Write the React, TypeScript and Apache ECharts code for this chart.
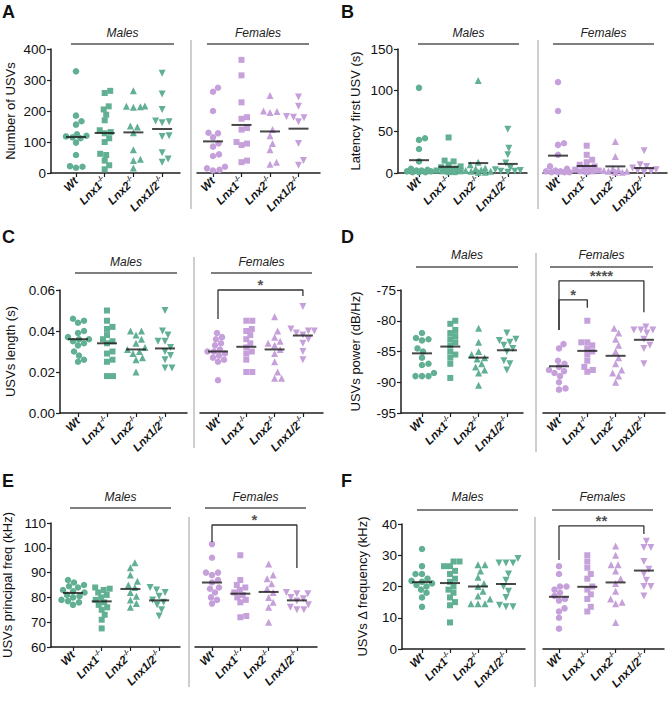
import React, { useEffect, useRef } from "react";
import * as echarts from "echarts";

// ---- categories -----------------------------------------------------------
const GENOTYPES = ["Wt", "Lnx1", "Lnx2", "Lnx1/2"];
const KNOCKOUT_SUFFIX = "-/-";
const SEXES = ["Males", "Females"];

// ---- A: number of USVs ----------------------------------------------------
const countMales = [
  [328, 185, 167, 156, 125, 120, 118, 115, 112, 98, 58, 22, 20, 17],
  [265, 258, 215, 205, 188, 170, 138, 132, 128, 112, 100, 62, 58, 40, 25, 12],
  [265, 216, 215, 214, 212, 152, 148, 130, 75, 44, 40, 16],
  [322, 255, 205, 168, 165, 162, 120, 118, 65, 45, 35],
];
const countFemales = [
  [275, 262, 200, 130, 128, 115, 95, 85, 60, 55, 20, 15, 10, 8],
  [365, 315, 228, 180, 175, 145, 140, 100, 95, 90, 40, 35],
  [250, 200, 198, 195, 140, 120, 95, 75, 35, 28],
  [245, 215, 182, 180, 178, 165, 95, 40, 25],
];
const countMalesMean = [116, 129, 131, 142];
const countFemalesMean = [102, 155, 134, 143];

// ---- B: latency to first USV (s) -----------------------------------------
const latencyMales = [
  [103, 42, 40, 29, 14, 5, 4, 3, 3, 2, 2, 1, 1, 1],
  [43, 15, 14, 10, 8, 7, 5, 4, 4, 3, 2, 2, 1, 1],
  [112, 13, 10, 6, 5, 4, 3, 2, 2, 1, 1],
  [53, 30, 22, 12, 6, 4, 3, 2, 2, 1],
];
const latencyFemales = [
  [110, 75, 36, 34, 22, 8, 5, 3, 2, 2, 1, 1, 1, 1],
  [33, 22, 16, 13, 10, 8, 6, 5, 4, 3, 2, 2, 1],
  [38, 20, 5, 4, 3, 2, 2, 1, 1],
  [27, 10, 8, 6, 4, 3, 2, 1],
];
const latencyMalesMean = [15.5, 7.5, 12, 11];
const latencyFemalesMean = [21, 8.5, 8, 6];

// ---- C: USV length (s) ----------------------------------------------------
const lengthMales = [
  [0.046, 0.045, 0.044, 0.04, 0.039, 0.037, 0.036, 0.036, 0.035, 0.034, 0.033, 0.03, 0.028, 0.026, 0.025],
  [0.05, 0.045, 0.042, 0.041, 0.038, 0.036, 0.035, 0.034, 0.03, 0.029, 0.026, 0.025, 0.018, 0.018],
  [0.04, 0.04, 0.038, 0.036, 0.034, 0.032, 0.031, 0.03, 0.029, 0.027, 0.026, 0.02],
  [0.05, 0.04, 0.038, 0.035, 0.035, 0.032, 0.03, 0.028, 0.026, 0.022, 0.022],
];
const lengthFemales = [
  [0.039, 0.037, 0.036, 0.034, 0.033, 0.031, 0.03, 0.03, 0.029, 0.028, 0.027, 0.026, 0.025, 0.016],
  [0.045, 0.045, 0.041, 0.04, 0.038, 0.036, 0.034, 0.032, 0.03, 0.029, 0.026, 0.02, 0.02],
  [0.047, 0.04, 0.037, 0.035, 0.034, 0.033, 0.031, 0.029, 0.025, 0.02, 0.017, 0.017],
  [0.052, 0.041, 0.04, 0.04, 0.039, 0.038, 0.036, 0.034, 0.03, 0.026],
];
const lengthMalesMean = [0.036, 0.034, 0.031, 0.0315];
const lengthFemalesMean = [0.03, 0.0323, 0.031, 0.0378];

// ---- D: USV power (dB/Hz) -------------------------------------------------
const powerMales = [
  [-82, -82.8, -83, -83.2, -84.5, -85, -86, -87, -87.2, -88.5, -89, -89, -89],
  [-80, -80.5, -81.5, -82, -82.5, -83, -83.5, -84, -85, -85.5, -86, -87, -89.3],
  [-81.2, -83.5, -85, -85.5, -86, -86.2, -87, -87.5, -88, -88.5, -90.5],
  [-82, -83, -83.2, -83.5, -84, -84.5, -85, -86.5, -87, -88],
];
const powerFemales = [
  [-83.8, -84.5, -86.5, -87, -87.5, -88, -88.2, -88.5, -89, -90, -91, -91.2],
  [-80, -83.5, -83.5, -84, -84.5, -85, -85.5, -86.5, -87.5, -88, -88.3],
  [-81.2, -82, -83, -84, -85, -86, -87, -88, -88.5, -89, -90],
  [-81, -81.5, -81.5, -81.5, -82, -83, -84, -84.5, -87],
];
const powerMalesMean = [-85.3, -84.2, -86, -84.8];
const powerFemalesMean = [-87.4, -84.9, -85.7, -83.1];

// ---- E: principal frequency (kHz) -----------------------------------------
const freqMales = [
  [87, 86, 85, 84.5, 84, 83, 82.5, 82, 81, 80.5, 80, 79, 78.5, 78, 77],
  [84, 83.5, 83, 82, 81, 80, 79, 78, 77, 76, 75, 73, 71, 67.5],
  [94, 92, 89, 86.5, 85, 84, 82, 80.5, 79, 77.5, 76],
  [84, 83, 82, 80.5, 79, 78, 77, 75, 72.5],
];
const freqFemales = [
  [101.5, 96, 90, 90, 89, 87, 86, 84, 83.5, 82, 80, 79, 77.5],
  [97, 87, 85, 84, 83, 82, 81, 80, 79, 78, 72.5, 72],
  [93.5, 89, 87.5, 85.5, 83.5, 82, 80, 78, 76, 70],
  [82, 81.5, 81.5, 80, 79.5, 78.5, 77, 76, 75, 75],
];
const freqMalesMean = [81.8, 78.4, 83.4, 78.8];
const freqFemalesMean = [86, 81.5, 82.2, 78.8];

// ---- F: delta frequency (kHz) ---------------------------------------------
const deltaMales = [
  [32, 26.5, 24, 24, 22.5, 21.8, 21.5, 21, 20.5, 20, 19, 18, 16.5, 13.5],
  [28, 28, 26.5, 26.5, 25, 24, 22.5, 21.5, 20, 19, 18, 16.5, 15, 14, 8.5],
  [27, 27, 25, 23, 21, 20, 18.5, 17, 16, 14.5, 14.5, 14.5],
  [29, 27.5, 27.5, 27.5, 24, 22, 20, 18.5, 16.5, 14, 13.5, 13.5],
];
const deltaFemales = [
  [26.5, 24, 20, 20, 19, 18, 17, 16, 15.5, 13, 12, 10, 6.5],
  [30, 28, 26, 24, 22.5, 20, 19, 17.5, 16, 13.5, 12],
  [33, 30, 27, 27, 25, 22.5, 21, 18.5, 16, 15, 14.5, 8.5],
  [34.5, 32.5, 32.5, 28, 25.5, 24, 22, 20, 20, 17],
];
const deltaMalesMean = [21.4, 21.1, 20, 20.8];
const deltaFemalesMean = [16.7, 19.9, 21.3, 25.1];

// ---- significance brackets (females, Wt vs. knockout) ---------------------
// [fromGenotype, toGenotype, barLevel, fromLegEnd, toLegEnd, stars]
const lengthBrackets = [[0, 3, 0.06, 0.0459, 0.0571, "*"]];
const powerBrackets = [
  [0, 3, -73.5, -81.5, -78.6, "****"],
  [0, 1, -76.6, -81.5, -77.9, "*"],
];
const freqBrackets = [[0, 3, 109.2, 102.3, 91.9, "*"]];
const deltaBrackets = [[0, 3, 39.4, 28.5, 36.8, "**"]];

// ---- styling ---------------------------------------------------------------
const FONT = "'Liberation Sans', Arial, Helvetica, sans-serif";
const GREEN = "#62b093";
const PURPLE = "#c6a0da";
const AXIS = "#1e1e1e";
const SYMBOLS = ["circle", "rect", "triangle", "triangle"];
const SYMBOL_ROTATE = [0, 0, 0, 180];
const SYMBOL_SIZE = [6.5, 6, 7, 7];

type Panel = {
  letter: string;
  yName: string;
  min: number;
  max: number;
  interval: number;
  decimals: number;
  males: number[][];
  females: number[][];
  malesMean: number[];
  femalesMean: number[];
  brackets: any[];
  lay: any;
};

const PANELS: Panel[] = [
  {
    letter: "A", yName: "Number of USVs", min: 0, max: 400, interval: 100, decimals: 0,
    males: countMales, females: countFemales, malesMean: countMalesMean, femalesMean: countFemalesMean,
    brackets: [],
    lay: { ax: 51, top: 49, bot: 173, mEnd: 180, mFirst: 76, mStep: 28.7, sep: 191, fStart: 197, fEnd: 320, fFirst: 213, fStep: 28.5,
      barY: 44, mBar: [71, 174], fBar: [207, 309], sepY: [40, 209], textY: 33, nameGap: 34, letter: [2, 3] },
  },
  {
    letter: "B", yName: "Latency first USV (s)", min: 0, max: 150, interval: 50, decimals: 0,
    males: latencyMales, females: latencyFemales, malesMean: latencyMalesMean, femalesMean: latencyFemalesMean,
    brackets: [],
    lay: { ax: 398, top: 49, bot: 173, mEnd: 527, mFirst: 419, mStep: 29.6, sep: 538, fStart: 543, fEnd: 667, fFirst: 558, fStep: 28.7,
      barY: 44, mBar: [418, 519], fBar: [553, 654], sepY: [40, 209], textY: 33, nameGap: 36, letter: [341, 3] },
  },
  {
    letter: "C", yName: "USVs length (s)", min: 0, max: 0.06, interval: 0.02, decimals: 2,
    males: lengthMales, females: lengthFemales, malesMean: lengthMalesMean, femalesMean: lengthFemalesMean,
    brackets: lengthBrackets,
    lay: { ax: 60, top: 290, bot: 413, mEnd: 187, mFirst: 78, mStep: 29, sep: 194, fStart: 200, fEnd: 323, fFirst: 218, fStep: 28.3,
      barY: 273, mBar: [75, 177], fBar: [211, 312], sepY: [257, 448], textY: 262, nameGap: 43, letter: [2, 228] },
  },
  {
    letter: "D", yName: "USVs power (dB/Hz)", min: -95, max: -75, interval: 5, decimals: 0,
    males: powerMales, females: powerFemales, malesMean: powerMalesMean, femalesMean: powerFemalesMean,
    brackets: powerBrackets,
    lay: { ax: 401, top: 290, bot: 413, mEnd: 523, mFirst: 422, mStep: 28.3, sep: 536, fStart: 543, fEnd: 665, fFirst: 559, fStep: 28.3,
      barY: 267, mBar: [416, 518], fBar: [550, 653], sepY: [253, 452], textY: 255, nameGap: 39, letter: [341, 228] },
  },
  {
    letter: "E", yName: "USVs principal freq (kHz)", min: 60, max: 110, interval: 10, decimals: 0,
    males: freqMales, females: freqFemales, malesMean: freqMalesMean, femalesMean: freqFemalesMean,
    brackets: freqBrackets,
    lay: { ax: 51, top: 523, bot: 647, mEnd: 180, mFirst: 73, mStep: 28.7, sep: 189, fStart: 195, fEnd: 317, fFirst: 212, fStep: 28.3,
      barY: 508, mBar: [70, 171], fBar: [205, 306], sepY: [517, 687], textY: 497, nameGap: 37, letter: [2, 472] },
  },
  {
    letter: "F", yName: "USVs \u0394 frequency (kHz)", min: 0, max: 40, interval: 10, decimals: 0,
    males: deltaMales, females: deltaFemales, malesMean: deltaMalesMean, femalesMean: deltaFemalesMean,
    brackets: deltaBrackets,
    lay: { ax: 402, top: 524, bot: 649, mEnd: 525, mFirst: 422, mStep: 28, sep: 535, fStart: 543, fEnd: 664, fFirst: 559, fStep: 28.3,
      barY: 510, mBar: [417, 518], fBar: [552, 653], sepY: [517, 687], textY: 497, nameGap: 33, letter: [341, 472] },
  },
];

// Horizontal pixel offsets so that overlapping points of a group spread
// sideways (beeswarm), computed from the value scale of the axis. The spread
// is capped; where a point cannot fit it takes the least crowded position.
function swarmOffsets(values: number[], pxPerUnit: number, diameter: number, maxOff: number): number[] {
  const order = values.map((_, i) => i).sort((a, b) => values[a] - values[b]);
  const placed: { x: number; y: number }[] = [];
  const out = new Array(values.length).fill(0);
  for (const i of order) {
    const y = values[i] * pxPerUnit;
    let best = 0;
    let bestGap = -1;
    for (let k = 0; ; k++) {
      const step = Math.ceil(k / 2) * 0.5;
      if (step > maxOff) break;
      const cand = k === 0 ? 0 : k % 2 === 1 ? step : -step;
      let gap = Infinity;
      for (const p of placed) gap = Math.min(gap, Math.hypot(p.x - cand, p.y - y));
      if (gap >= diameter) {
        best = cand;
        bestGap = gap;
        break;
      }
      if (gap > bestGap + 0.5) {
        bestGap = gap;
        best = cand;
      }
    }
    placed.push({ x: best, y });
    out[i] = best;
  }
  return out;
}

const labelFormatter = (v: number) => {
  const i = Math.round(v);
  const name = GENOTYPES[i] ?? "";
  return i === 0 ? `{g|${name}}` : `{g|${name}}{s|${KNOCKOUT_SUFFIX}}`;
};

function buildOption() {
  const grid: any[] = [];
  const xAxis: any[] = [];
  const yAxis: any[] = [];
  const series: any[] = [];
  const graphic: any[] = [];

  PANELS.forEach((p, pi) => {
    const L = p.lay;
    const pxPerUnit = (L.bot - L.top) / (p.max - p.min);

    graphic.push({
      type: "text", left: L.letter[0], top: L.letter[1],
      style: { text: p.letter, font: `bold 18px ${FONT}`, fill: "#111" },
    });
    graphic.push({
      type: "line", shape: { x1: L.sep, y1: L.sepY[0], x2: L.sep, y2: L.sepY[1] },
      style: { stroke: "#9c9c9c", lineWidth: 1 },
    });

    [0, 1].forEach((h) => {
      const gi = pi * 2 + h;
      const x0 = h === 0 ? L.ax : L.fStart;
      const x1 = h === 0 ? L.mEnd : L.fEnd;
      const first = h === 0 ? L.mFirst : L.fFirst;
      const step = h === 0 ? L.mStep : L.fStep;
      const bar = h === 0 ? L.mBar : L.fBar;
      const groups = h === 0 ? p.males : p.females;
      const means = h === 0 ? p.malesMean : p.femalesMean;
      const color = h === 0 ? GREEN : PURPLE;

      grid.push({ left: x0, top: L.top, width: x1 - x0, height: L.bot - L.top });

      xAxis.push({
        type: "value", gridIndex: gi,
        min: -(first - x0) / step, max: (x1 - first) / step,
        splitLine: { show: false },
        axisLine: { show: true, onZero: false, lineStyle: { color: AXIS, width: 1.5 } },
        axisTick: { show: true, customValues: [0, 1, 2, 3], length: 4, lineStyle: { color: AXIS, width: 1.2 } },
        axisLabel: {
          show: true, customValues: [0, 1, 2, 3], rotate: 45, margin: 6,
          formatter: labelFormatter,
          rich: {
            g: { fontFamily: FONT, fontSize: 11.5, fontWeight: "bold", fontStyle: "italic", color: "#111", lineHeight: 14 },
            s: { fontFamily: FONT, fontSize: 7, fontWeight: "bold", fontStyle: "italic", color: "#111", lineHeight: 8, verticalAlign: "top" },
          },
        },
      });

      yAxis.push({
        type: "value", gridIndex: gi, show: h === 0,
        min: p.min, max: p.max, interval: p.interval,
        splitLine: { show: false },
        axisLine: { show: true, onZero: false, lineStyle: { color: AXIS, width: 1.5 } },
        axisTick: { show: true, length: 4, lineStyle: { color: AXIS, width: 1.2 } },
        axisLabel: {
          fontFamily: FONT, fontSize: 13.5, color: "#111", margin: 5,
          formatter: (v: number) => v.toFixed(p.decimals),
        },
        name: h === 0 ? p.yName : "",
        nameLocation: "middle", nameGap: L.nameGap,
        nameTextStyle: { fontFamily: FONT, fontSize: 13, color: "#111" },
      });

      // Males / Females header with its rule
      graphic.push({
        type: "line", shape: { x1: bar[0], y1: L.barY, x2: bar[1], y2: L.barY },
        style: { stroke: "#555", lineWidth: 1.5 },
      });
      graphic.push({
        type: "text", x: (bar[0] + bar[1]) / 2, y: L.textY,
        style: { text: SEXES[h], font: `italic 12px ${FONT}`, fill: "#222", align: "center", verticalAlign: "middle" },
      });

      groups.forEach((vals, g) => {
        const offs = swarmOffsets(vals, pxPerUnit, SYMBOL_SIZE[g] * 0.95, step / 2 - 2);
        series.push({
          type: "scatter", xAxisIndex: gi, yAxisIndex: gi,
          symbol: SYMBOLS[g], symbolRotate: SYMBOL_ROTATE[g], symbolSize: SYMBOL_SIZE[g],
          itemStyle: { color, opacity: 1 },
          data: vals.map((v, k) => ({ value: [g, v], symbolOffset: [offs[k], 0] })),
          z: 2, silent: true,
        });
      });

      series.push({
        type: "scatter", xAxisIndex: gi, yAxisIndex: gi,
        symbol: "rect", symbolSize: [20, 2],
        itemStyle: { color: "#1a1a1a" },
        data: means.map((m, g) => [g, m]),
        z: 4, silent: true,
      });

      if (h === 1) {
        p.brackets.forEach((b) => {
          const [from, to, level, legFrom, legTo, stars] = b;
          series.push({
            type: "line", xAxisIndex: gi, yAxisIndex: gi, clip: false,
            symbol: "none", silent: true, z: 3,
            lineStyle: { color: "#333", width: 1.3 },
            data: [[from, legFrom], [from, level], [to, level], [to, legTo]],
          });
          series.push({
            type: "scatter", xAxisIndex: gi, yAxisIndex: gi, clip: false,
            symbolSize: 2, itemStyle: { color: "rgba(0,0,0,0)" }, silent: true, z: 3,
            label: {
              show: true, position: "top", distance: -3, formatter: stars,
              fontFamily: FONT, fontSize: 15, fontWeight: "bold", color: "#222",
            },
            data: [[(from + to) / 2, level]],
          });
        });
      }
    });
  });

  return { animation: false, backgroundColor: "#ffffff", grid, xAxis, yAxis, series, graphic };
}

export default function App() {
  const ref = useRef<HTMLDivElement>(null);
  useEffect(() => {
    document.body.style.margin = "0";
    if (!ref.current) return;
    const chart = echarts.init(ref.current, undefined, { renderer: "svg" });
    chart.setOption(buildOption());
    return () => chart.dispose();
  }, []);
  return <div ref={ref} style={{ width: 669, height: 703 }} />;
}
